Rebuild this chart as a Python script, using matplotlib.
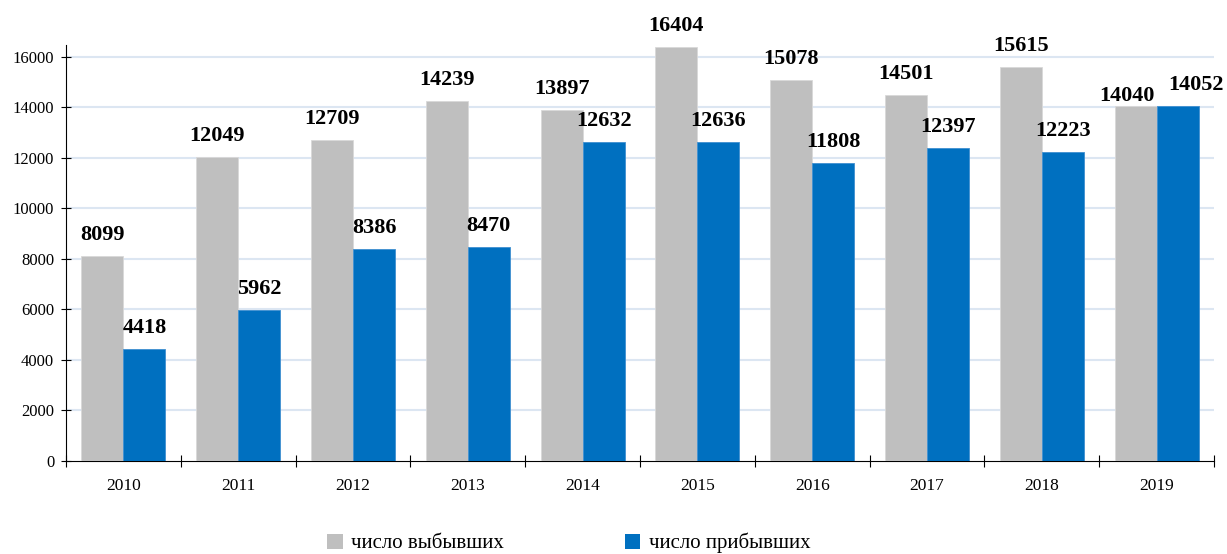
import matplotlib
matplotlib.use("Agg")
import matplotlib.pyplot as plt
import numpy as np
from matplotlib.patches import Patch

plt.rcParams['font.family'] = ['Liberation Serif', 'DejaVu Serif']

years = ["2010", "2011", "2012", "2013", "2014", "2015", "2016", "2017", "2018", "2019"]
left_vals = [8099, 12049, 12709, 14239, 13897, 16404, 15078, 14501, 15615, 14040]
arrived_vals = [4418, 5962, 8386, 8470, 12632, 12636, 11808, 12397, 12223, 14052]
series_names = ["число выбывших", "число прибывших"]

gray = "#BFBFBF"
blue = "#0070C0"

fig = plt.figure(figsize=(12.27, 5.54), dpi=100)
ax = fig.add_axes([66/1227, 1 - 461/554, (1214-66)/1227, (461-45)/554])

x = np.arange(len(years))
w = 0.366
b1 = ax.bar(x - w/2, left_vals, w, color=gray, edgecolor="#D9D9D9", linewidth=0.6, zorder=3)
b2 = ax.bar(x + w/2, arrived_vals, w, color=blue, edgecolor="#3F8FD0", linewidth=0.6, zorder=3)

# value labels; the last pair is nudged apart like in the original
for i in range(len(years)):
    dx1, dy1 = 0, 8
    dx2, dy2 = 0, 8
    if i == len(years) - 1:
        dx1, dy1 = -6, 0
        dx2, dy2 = 13, 8
    ax.annotate(str(left_vals[i]), (x[i] - w/2, left_vals[i]), xytext=(dx1, dy1),
                textcoords="offset points", ha="center", va="bottom",
                fontsize=16, fontweight="bold", annotation_clip=False)
    ax.annotate(str(arrived_vals[i]), (x[i] + w/2, arrived_vals[i]), xytext=(dx2, dy2),
                textcoords="offset points", ha="center", va="bottom",
                fontsize=16, fontweight="bold", annotation_clip=False)

ax.set_xlim(-0.5, len(years) - 0.5)
ax.set_ylim(0, 16475)
ax.set_yticks(np.arange(0, 16001, 2000))
ax.set_xticks(x)
ax.set_xticklabels(years, fontsize=12.5)
ax.set_xticks(np.arange(-0.5, len(years), 1), minor=True)
ax.tick_params(axis="x", which="major", length=0, pad=12)
ax.tick_params(axis="x", which="minor", direction="inout", length=8, width=0.8)
ax.tick_params(axis="y", direction="inout", length=7, width=0.8, labelsize=12, pad=5)

for y in np.arange(2000, 16001, 2000):
    ax.axhline(y, color="#DCE6F2", linewidth=1.5, zorder=1)

ax.spines["top"].set_visible(False)
ax.spines["right"].set_visible(False)
ax.spines["left"].set_linewidth(0.8)
ax.spines["bottom"].set_linewidth(0.8)

handles = [Patch(facecolor=gray, edgecolor="none"), Patch(facecolor=blue, edgecolor="none")]
fig.legend(handles, series_names, loc="lower left", bbox_to_anchor=(327/1227, 0.001),
           ncol=2, frameon=False, fontsize=15, handlelength=0.75, handleheight=0.75,
           handletextpad=0.4, columnspacing=5.8, borderpad=0, borderaxespad=0)

fig.savefig("out.png", dpi=100)
